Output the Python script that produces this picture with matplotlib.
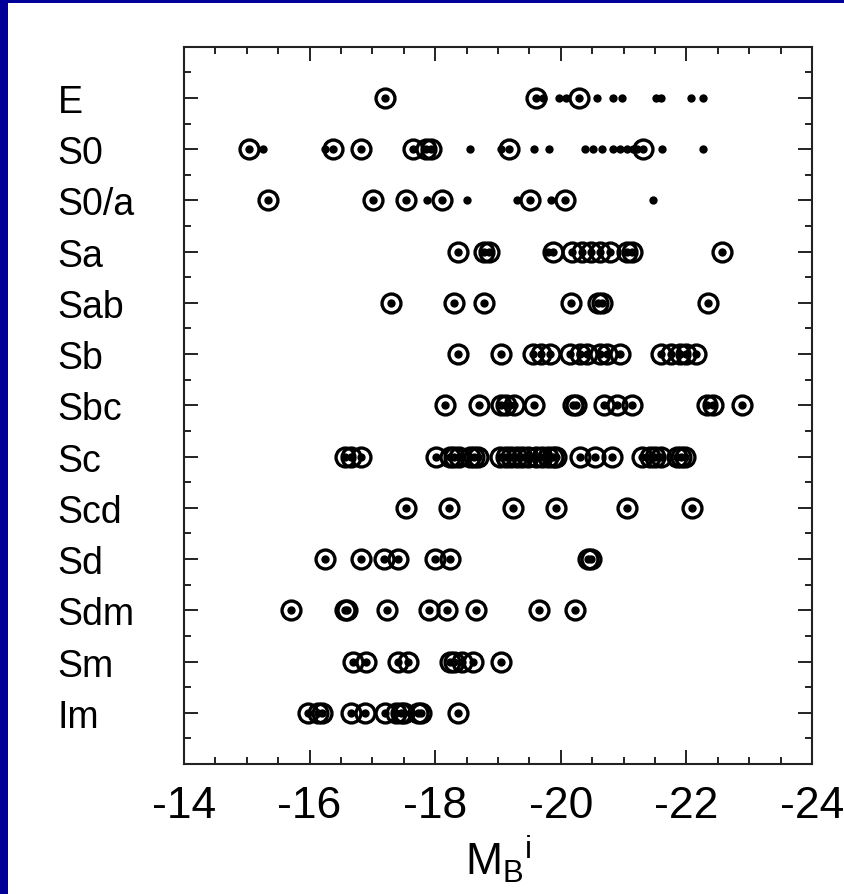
import matplotlib
matplotlib.use('Agg')
import matplotlib.pyplot as plt
from matplotlib.patches import Rectangle

plt.rcParams['font.family'] = ['Liberation Sans', 'DejaVu Sans']
plt.rcParams['mathtext.fontset'] = 'custom'
plt.rcParams['mathtext.rm'] = 'Liberation Sans'

types = ['E', 'S0', 'S0/a', 'Sa', 'Sab', 'Sb', 'Sbc', 'Sc', 'Scd', 'Sd', 'Sdm', 'Sm', 'Im']

# circled galaxies (ring + centre dot)
E_c = [-17.2, -19.6, -20.29]
S0_c = [-15.04, -16.37, -16.82, -17.65, -17.86, -17.94, -19.18, -21.31]
S0a_c = [-15.34, -17.01, -17.53, -18.11, -19.51, -20.06]
Sa_c = [-18.36, -18.78, -18.85, -19.88, -20.18, -20.33, -20.48, -20.62, -20.78,
        -21.05, -21.13, -22.57]
Sab_c = [-17.3, -18.3, -18.77, -20.17, -20.6, -20.65, -22.35]
Sb_c = [-18.36, -19.04, -19.56, -19.69, -19.83, -20.14, -20.3, -20.41, -20.62,
        -20.73, -20.94, -21.6, -21.76, -21.9, -22.0, -22.16]
Sbc_c = [-18.15, -18.69, -19.05, -19.12, -19.25, -19.58, -20.2, -20.24, -20.69,
         -20.89, -21.13, -22.33, -22.42, -22.89]
Sc_c = [-16.56, -16.66, -16.82, -18.02, -18.23, -18.3, -18.38, -18.55, -18.62,
        -18.68, -19.03, -19.13, -19.2, -19.3, -19.38, -19.48, -19.6, -19.7, -19.8,
        -19.88, -19.92, -20.3, -20.54, -20.81, -21.3, -21.42, -21.5, -21.6, -21.85,
        -21.92, -21.97]
Scd_c = [-17.54, -18.22, -19.24, -19.93, -21.05, -22.09]
Sd_c = [-16.24, -16.82, -17.18, -17.41, -17.99, -18.24, -20.44, -20.48]
Sdm_c = [-15.7, -16.56, -16.6, -17.23, -17.9, -18.18, -18.65, -19.66, -20.22]
Sm_c = [-16.69, -16.9, -17.41, -17.57, -18.24, -18.3, -18.42, -18.6, -19.05]
Im_c = [-15.97, -16.13, -16.2, -16.66, -16.89, -17.2, -17.38, -17.45, -17.5,
        -17.73, -17.78, -18.36]

# plain dots only
E_d = [-19.72, -19.97, -20.08, -20.58, -20.83, -20.98, -21.52, -21.6, -22.07, -22.26]
S0_d = [-15.26, -16.25, -18.55, -19.05, -19.57, -19.81, -20.38, -20.51, -20.65,
        -20.83, -20.94, -21.05, -21.15, -21.21, -21.61, -22.27]
S0a_d = [-17.87, -18.5, -19.3, -19.84, -21.47]
Sa_d = [-19.79]

circled = [E_c, S0_c, S0a_c, Sa_c, Sab_c, Sb_c, Sbc_c, Sc_c, Scd_c, Sd_c, Sdm_c, Sm_c, Im_c]
dots = [E_d, S0_d, S0a_d, Sa_d, [], [], [], [], [], [], [], [], []]

xticks = [-14, -16, -18, -20, -22, -24]

fig = plt.figure(figsize=(8.44, 8.95), dpi=100)
fig.patch.set_facecolor('#000099')
fig.patches.append(Rectangle((8 / 844, 0), 1, 1 - 4 / 895, transform=fig.transFigure,
                             facecolor='white', edgecolor='none', zorder=-10))

ax = fig.add_axes([184 / 844, 1 - 765 / 895, 628 / 844, 717.3 / 895])
ax.set_facecolor('white')

for i, (c, d) in enumerate(zip(circled, dots)):
    if d:
        ax.plot(d, [i] * len(d), 'o', color='black', ms=6, mew=0, zorder=3)
    ax.plot(c, [i] * len(c), 'o', color='black', ms=6, mew=0, zorder=3)
    ax.plot(c, [i] * len(c), 'o', mfc='none', mec='black', ms=13.6, mew=2.4, zorder=4)

ax.set_xlim(-14, -24)
ax.set_ylim(13, -1)

ax.set_xticks(xticks)
ax.set_xticklabels([str(t) for t in xticks])
ax.set_xticks([-14 - 0.5 * k for k in range(21)], minor=True)
ax.set_yticks(range(len(types)))
ax.set_yticklabels(types)
ax.set_yticks([k + 0.5 for k in range(-1, 13)], minor=True)

ax.tick_params(which='both', direction='in', top=True, right=True, width=1.4, color='#222222')
ax.tick_params(which='major', length=10)
ax.tick_params(which='minor', length=5)
ax.tick_params(axis='x', which='major', labelsize=32, pad=15)
ax.tick_params(axis='y', which='major', labelsize=27, pad=91)
for lab in ax.get_yticklabels():
    lab.set_horizontalalignment('left')

for s in ax.spines.values():
    s.set_linewidth(1.5)
    s.set_color('#222222')

ax.set_xlabel(r'$\mathregular{M_B{}^i}$', fontsize=32, labelpad=5)

fig.savefig('out.png', dpi=100, facecolor=fig.get_facecolor())
